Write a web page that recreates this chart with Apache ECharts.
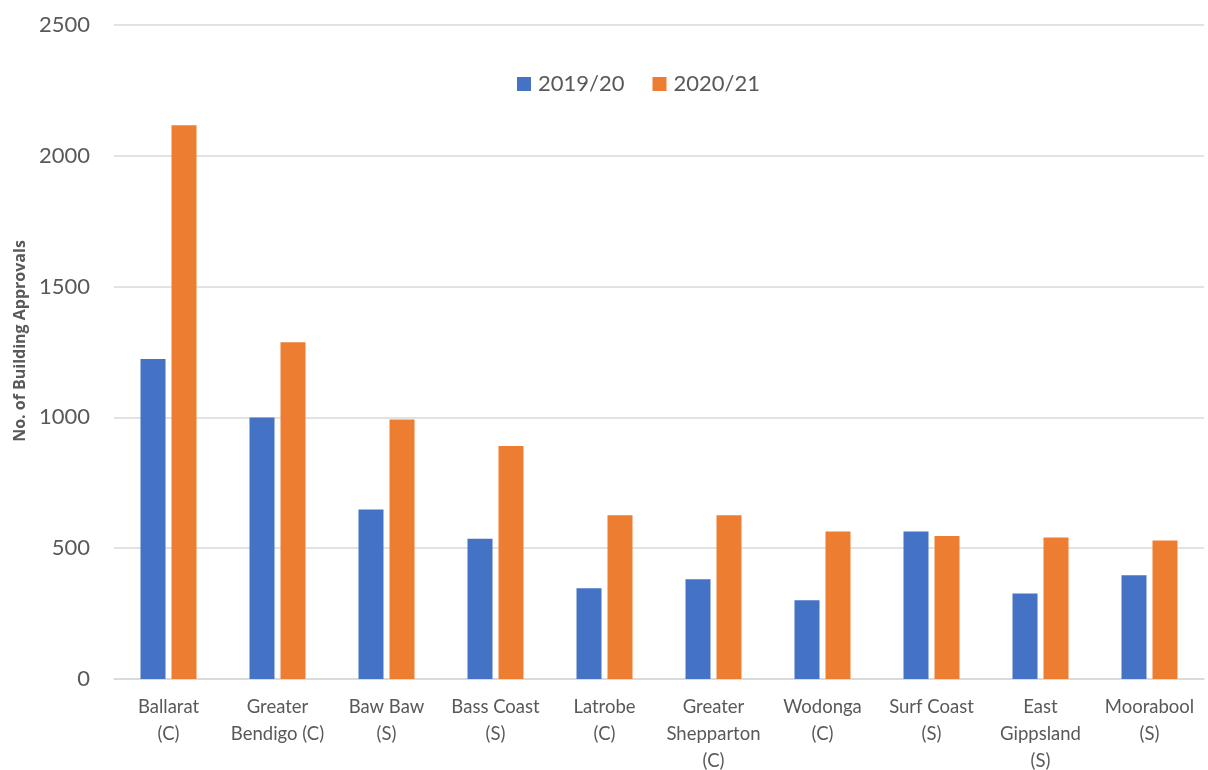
<!DOCTYPE html>
<html>
<head>
<meta charset="utf-8">
<title>Building Approvals by Council</title>
<script src="https://cdn.jsdelivr.net/npm/echarts@6/dist/echarts.min.js"></script>
<style>
  html, body { margin: 0; padding: 0; background: #ffffff; }
  #chart { width: 1208px; height: 770px; }
</style>
</head>
<body>
<div id="chart"></div>
<script>
// Councils (tick labels, pre-wrapped)
const councils = [
  'Ballarat\n(C)',
  'Greater\nBendigo (C)',
  'Baw Baw\n(S)',
  'Bass Coast\n(S)',
  'Latrobe\n(C)',
  'Greater\nShepparton\n(C)',
  'Wodonga\n(C)',
  'Surf Coast\n(S)',
  'East\nGippsland\n(S)',
  'Moorabool\n(S)'
];

// Building approvals per financial year
const approvals2019 = [1223, 1000, 648, 536, 347, 381, 301, 564, 327, 397];
const approvals2021 = [2117, 1287, 992, 891, 626, 626, 564, 547, 541, 529];

const seriesNames = ['2019/20', '2020/21'];

const textGrey = '#595959';
const gridGrey = '#d9d9d9';

const chart = echarts.init(document.getElementById('chart'));

chart.setOption({
  animation: false,
  backgroundColor: '#ffffff',
  grid: {
    left: 114, right: 4, top: 25, bottom: 91,
    containLabel: false,
    outerBoundsMode: 'none'
  },
  legend: {
    data: seriesNames,
    left: 512,
    top: 68,
    icon: 'rect',
    itemWidth: 14,
    itemHeight: 14,
    itemGap: 28,
    textStyle: {
      color: textGrey,
      fontFamily: 'Lato',
      fontSize: 22,
      padding: [0, 0, 0, 2]
    }
  },
  xAxis: {
    type: 'category',
    data: councils,
    axisLine: { show: true, lineStyle: { color: gridGrey, width: 1.5 } },
    axisTick: { show: false },
    axisLabel: {
      interval: 0,
      color: textGrey,
      fontFamily: 'Lato',
      fontSize: 18.5,
      lineHeight: 27,
      margin: 15
    }
  },
  yAxis: {
    type: 'value',
    min: 0,
    max: 2500,
    interval: 500,
    name: 'No. of Building Approvals',
    nameLocation: 'middle',
    nameGap: 83,
    nameTextStyle: {
      color: textGrey,
      fontFamily: 'Open Sans',
      fontSize: 16,
      fontWeight: 'bold',
      padding: [0, 0, 0, 22]
    },
    axisLine: { show: false },
    axisTick: { show: false },
    splitLine: { lineStyle: { color: gridGrey, width: 1.5 } },
    axisLabel: {
      color: textGrey,
      fontFamily: 'Lato',
      fontSize: 22,
      margin: 24,
      formatter: (v) => String(v)
    }
  },
  series: [
    {
      name: seriesNames[0],
      type: 'bar',
      data: approvals2019,
      barWidth: 25,
      barGap: '24%',
      itemStyle: { color: '#4472C4' }
    },
    {
      name: seriesNames[1],
      type: 'bar',
      data: approvals2021,
      barWidth: 25,
      barGap: '24%',
      itemStyle: { color: '#ED7D31' }
    }
  ]
});
</script>
</body>
</html>
